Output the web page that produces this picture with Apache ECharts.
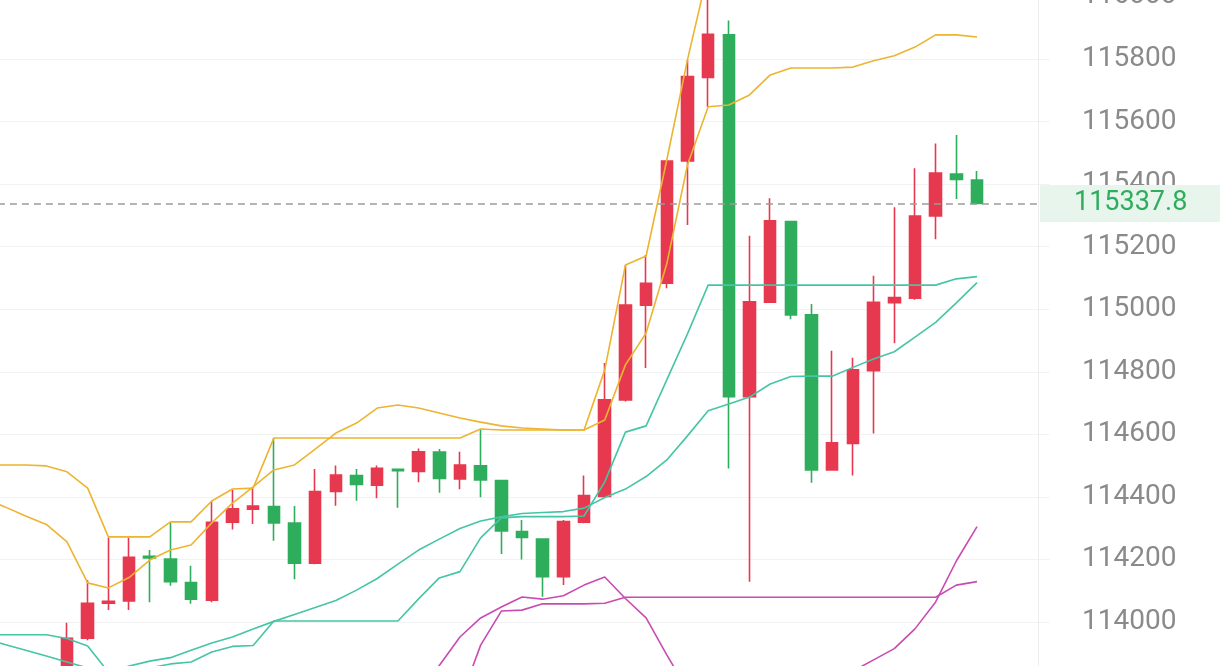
<!DOCTYPE html>
<html>
<head>
<meta charset="utf-8">
<script src="https://cdn.jsdelivr.net/npm/echarts@6/dist/echarts.min.js"></script>
<style>
html,body{margin:0;padding:0;background:#ffffff;}
#chart{width:1220px;height:666px;}
</style>
</head>
<body>
<div id="chart"></div>
<script>
// ---- DATA ----
const categories = ['1','2','3','4','5','6','7','8','9','10','11','12','13','14','15','16','17','18','19','20',
  '21','22','23','24','25','26','27','28','29','30','31','32','33','34','35','36','37','38','39','40',
  '41','42','43','44','45','46','47','48','49','50','51','52'];
const hiddenLeadingSlots = 4; // slots before the first visible candle (only indicator lines there)

const opens  = [113820,113948,114060,114067,114210,114201,114126,114070,114319,114361,114369,114316,114188,114417,114468,114437,114488,114481,114543,114457,114499,114452,114289,114265,114145,114319,114401,114710,115013,115083,115474,115741,115877,114720,115022,115280,114982,114486,114571,114803,115021,115035,115298,115432,115413];
const closes = [113948,114060,114066,114207,114205,114129,114073,114319,114362,114371,114317,114188,114417,114470,114440,114491,114484,114544,114459,114502,114454,114291,114270,114145,114321,114404,114710,115013,115083,115474,115744,115879,114720,115024,115283,114982,114486,114573,114806,115022,115037,115298,115435,115415,115337.8];
const lows   = [113800,113942,114038,114038,114063,114116,114058,114063,114296,114313,114260,114137,114185,114372,114388,114396,114365,114447,114413,114424,114399,114217,114200,114081,114118,114316,114398,114705,114812,115067,115269,115647,114491,114129,115020,114968,114445,114486,114468,114603,114891,115030,115224,115352,115337.8];
const highs  = [113998,114134,114270,114270,114230,114317,114180,114387,114422,114427,114588,114371,114489,114500,114489,114500,114490,114555,114553,114544,114617,114452,114326,114265,114326,114468,114828,115141,115173,115474,115797,116060,115923,115235,115355,115280,115017,114867,114845,115107,115326,115451,115530,115557,115442];

const lastPrice = 115337.8;

// indicator lines (first 4 values belong to the hidden leading slots)
const yellowStep = [114502,114502,114502,114499,
  114480,114428,114272,114272,114272,114320,114320,114387,114425,114428,
  114588,114588,114588,114588,114588,114588,114588,114588,114588,114588,
  114617,114614,114614,114614,114614,114614,114806,115141,115170,115477,115797,116081,
  null,null,null,null,null,null,null,null,null,null,null,null,null];
const yellowSmooth = [114396,114368,114339,114312,
  114256,114125,114109,114142,114198,114230,114246,114317,114380,114432,
  114486,114502,114553,114604,114636,114684,114694,114684,114668,114652,
  114639,114627,114620,114617,114614,114614,114646,114822,114924,115145,
  115461,115647,115653,115685,115749,115771,115771,115771,115774,115794,
  115810,115838,115877,115877,115870];
const tealSmooth = [113947,113928,113910,113891,
  113872,113853,113840,113859,113875,113886,113910,113933,113952,113978,
  114002,114024,114046,114069,114102,114139,114185,114230,114265,114299,
  114323,114336,114347,114350,114353,114364,114398,114425,114465,114518,
  114595,114675,114697,114719,114761,114785,114786,114786,114814,114841,
  114864,114911,114958,115020,115085];
const tealStep = [113959,113959,113959,113959,
  113947,113923,113840,113847,113853,113866,113872,113904,113922,113925,
  114003,114003,114003,114003,114003,114003,114003,
  114074,114141,114161,114269,114333,114337,114337,114337,114339,
  114448,114607,114627,114774,114921,
  115077,115077,115077,115077,115077,115077,115077,115077,115077,115077,115077,115077,
  115097,115104];
const magentaA = [null,null,null,null,
  null,null,null,null,null,null,null,null,null,null,null,null,null,null,null,null,null,
  113779,113861,113952,114013,114048,114080,114073,114084,114118,114144,114075,114013,113895,113783,
  null,null,null,null,null,null,null,
  113843,113879,113915,113978,114064,114195,114305];
const magentaB = [null,null,null,null,
  null,null,null,null,null,null,null,null,null,null,null,null,null,null,null,null,null,null,null,
  113747,113926,114035,114038,114058,114058,114058,114060,
  114079,114079,114079,114079,114079,114079,114079,114079,114079,114079,114079,114079,114079,114079,114079,114079,
  114118,114129];

// axis
const yMin = 113800, yMax = 116000, yStep = 200;

// ---- BUILD ----
const candleData = categories.map((c, i) => {
  const k = i - hiddenLeadingSlots;
  if (k < 0 || k >= opens.length) return ['-','-','-','-'];
  return [opens[k], closes[k], lows[k], highs[k]];
});
const asSeries = arr => arr.map(v => (v == null ? '-' : v));

const UP = '#E6394F', DOWN = '#2EAE5C';
function lineSeries(data, color) {
  return {
    type: 'line', data: asSeries(data), symbol: 'none', silent: true,
    connectNulls: false, smooth: false,
    lineStyle: { color: color, width: 1.6 }, itemStyle: { color: color }
  };
}

const chart = echarts.init(document.getElementById('chart'), null, { renderer: 'canvas' });
chart.setOption({
  animation: false,
  backgroundColor: '#ffffff',
  grid: { left: -26.07, right: 170.6, top: -3.6, bottom: -18.56, containLabel: false, outerBoundsMode: 'none' },
  xAxis: { type: 'category', data: categories, boundaryGap: true, show: false },
  yAxis: {
    type: 'value', position: 'right', min: yMin, max: yMax, interval: yStep, offset: -11.4,
    axisLine: { show: true, lineStyle: { color: '#EDEDED', width: 1 } },
    axisTick: { show: false },
    axisLabel: { margin: 44, color: '#8A8A8A', fontSize: 28, fontFamily: 'Roboto', align: 'left',
      formatter: v => String(v) },
    splitLine: { show: true, lineStyle: { color: '#F2F2F2', width: 1 } }
  },
  series: [
    {
      type: 'candlestick', data: candleData, barWidth: 12, silent: true,
      itemStyle: { color: UP, color0: DOWN, borderColor: UP, borderColor0: DOWN, borderWidth: 1.6 },
      markLine: {
        symbol: 'none', silent: true, animation: false,
        data: [{ yAxis: lastPrice }],
        lineStyle: { type: [7, 5], color: '#9B9B9B', width: 1.5 },
        label: {
          show: true, position: 'end', distance: -9.4,
          formatter: () => lastPrice.toFixed(1),
          color: '#2EAD5C', fontSize: 27, fontFamily: 'Roboto',
          backgroundColor: '#E8F5EC', padding: [5, 44, 5, 34]
        }
      }
    },
    lineSeries(yellowStep, '#ECB431'),
    lineSeries(yellowSmooth, '#ECB431'),
    lineSeries(tealSmooth, '#45C5A5'),
    lineSeries(tealStep, '#45C5A5'),
    lineSeries(magentaA, '#C94BB1'),
    lineSeries(magentaB, '#C94BB1')
  ]
});
</script>
</body>
</html>
